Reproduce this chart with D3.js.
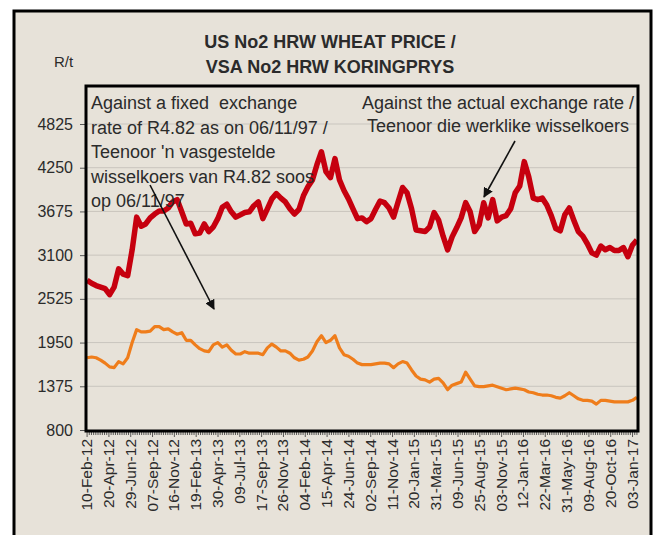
<!DOCTYPE html>
<html>
<head>
<meta charset="utf-8">
<script src="https://cdn.jsdelivr.net/npm/d3@7"></script>
<style>
	html,body{margin:0;padding:0;background:#fff;}
	text{font-family:"Liberation Sans",Arial,sans-serif;fill:#2b2b2b;}
</style>
</head>
<body>
<svg id="vis" width="656" height="535"></svg>
<script>
// R/t, one value every second week, 10-Feb-12 .. Jan-17
var actualRate = [2770,2730,2700,2680,2660,2580,2680,2920,2850,2830,
	3170,3600,3480,3510,3590,3640,3680,3680,3720,3800,
	3830,3670,3510,3520,3380,3390,3510,3410,3470,3580,
	3730,3770,3670,3600,3630,3660,3670,3750,3800,3580,
	3710,3840,3910,3850,3800,3710,3640,3700,3880,4000,
	4090,4290,4460,4200,4120,4370,4090,3950,3840,3710,
	3580,3590,3540,3580,3700,3810,3790,3720,3600,3800,
	3990,3920,3710,3430,3420,3410,3470,3660,3560,3350,
	3170,3340,3460,3590,3790,3670,3410,3500,3790,3590,
	3830,3550,3600,3620,3710,3920,4010,4330,4130,3850,
	3830,3850,3760,3620,3450,3420,3630,3720,3560,3410,
	3350,3250,3130,3100,3220,3170,3200,3160,3160,3200,
	3080,3230,3300];

var fixedRate = [1750,1760,1750,1720,1680,1630,1620,1700,1670,1750,
	1950,2120,2090,2090,2100,2160,2160,2120,2130,2090,
	2060,2080,1980,1980,1920,1870,1840,1830,1920,1950,
	1890,1920,1850,1800,1800,1830,1810,1810,1810,1790,
	1880,1930,1890,1840,1840,1810,1750,1720,1730,1760,
	1840,1960,2040,1950,1980,2040,1880,1790,1770,1730,
	1680,1660,1660,1660,1670,1680,1680,1670,1620,1670,
	1700,1680,1590,1510,1470,1460,1430,1470,1480,1420,
	1330,1390,1410,1430,1560,1470,1380,1370,1370,1380,
	1390,1370,1350,1330,1340,1350,1340,1330,1300,1290,
	1270,1260,1260,1250,1230,1220,1250,1290,1250,1210,
	1190,1190,1180,1140,1190,1190,1180,1170,1170,1170,
	1170,1190,1230];

var dateLabels = ['10-Feb-12','20-Apr-12','29-Jun-12','07-Sep-12','16-Nov-12','19-Feb-13',
	'30-Apr-13','09-Jul-13','17-Sep-13','26-Nov-13','04-Feb-14','15-Apr-14','24-Jun-14',
	'02-Sep-14','11-Nov-14','20-Jan-15','31-Mar-15','09-Jun-15','25-Aug-15','03-Nov-15',
	'12-Jan-16','22-Mar-16','31-May-16','09-Aug-16','20-Oct-16','03-Jan-17'];

var yTicks = [800,1375,1950,2525,3100,3675,4250,4825];

var titleLines = ['US No2 HRW WHEAT PRICE /','VSA No2 HRW KORINGPRYS'];
var noteFixed = ['Against a fixed  exchange','rate of R4.82 as on 06/11/97 /',"Teenoor 'n vasgestelde",'wisselkoers van R4.82 soos','op 06/11/97'];
var noteActual = ['Against the actual exchange rate /','Teenoor die werklike wisselkoers'];

var chart = {
	w:656,
	h:535,

	left:86,
	right:638,
	top:86,
	bottom:431,

	weeks:253,		// categories on the axis, label every 10th

	generate:function(){
		var self = this;
		var svg = d3.select('#vis');

		// paper + outer frame
		svg.append('rect')
			.attr('x',14).attr('y',11)
			.attr('width',637).attr('height',560)
			.attr('fill','#e7e2d9')
			.attr('stroke','#000')
			.attr('stroke-width',3);

		var y = d3.scaleLinear()
			.domain([800,4825])
			.range([self.bottom -1,124]);

		var xc = d3.scaleLinear()
			.domain([-0.5,self.weeks -0.5])
			.range([self.left,self.right]);

		var xs = d3.scaleLinear()
			.domain([0,actualRate.length -1])
			.range([xc(0),xc(self.weeks -1)]);

		// grid
		svg.selectAll('line.grid')
			.data(yTicks.slice(1))
			.enter().append('line')
			.classed('grid',true)
			.attr('x1',self.left).attr('x2',self.right)
			.attr('y1',function(d){ return y(d); })
			.attr('y2',function(d){ return y(d); })
			.attr('stroke','#c9c5be')
			.attr('stroke-width',1);

		// y axis labels + ticks
		var yAxis = d3.axisLeft(y)
			.tickValues(yTicks)
			.tickFormat(d3.format('d'))
			.tickSize(6)
			.tickPadding(7);
		var gy = svg.append('g')
			.attr('transform','translate(' +self.left +',0)')
			.call(yAxis);
		gy.select('.domain').remove();
		gy.selectAll('line').attr('stroke','#555');
		gy.selectAll('text')
			.style('font-size','16px')
			.attr('fill','#333');

		// x axis: small tick per week, label every 10 weeks
		svg.selectAll('line.wk')
			.data(d3.range(self.weeks))
			.enter().append('line')
			.classed('wk',true)
			.attr('x1',function(d){ return xc(d); })
			.attr('x2',function(d){ return xc(d); })
			.attr('y1',self.bottom)
			.attr('y2',function(d){ return self.bottom +(d%10 === 0 ? 6 : 4); })
			.attr('stroke','#333')
			.attr('stroke-width',0.8);

		svg.selectAll('text.xlab')
			.data(dateLabels)
			.enter().append('text')
			.classed('xlab',true)
			.attr('transform',function(d,i){
				return 'translate(' +(xc(i*10) +5) +',' +(self.bottom +8) +') rotate(-90)';
			})
			.attr('text-anchor','end')
			.style('font-size','15.5px')
			.attr('fill','#333')
			.text(function(d){ return d; });

		// lines
		var line = d3.line()
			.x(function(d,i){ return xs(i); })
			.y(function(d){ return y(d); })
			.curve(d3.curveLinear);

		svg.append('path')
			.datum(fixedRate)
			.attr('d',line)
			.attr('fill','none')
			.attr('stroke','#ef7d1b')
			.attr('stroke-width',3.2)
			.attr('stroke-linejoin','round');

		svg.append('path')
			.datum(actualRate)
			.attr('d',line)
			.attr('fill','none')
			.attr('stroke','#c6000f')
			.attr('stroke-width',5.5)
			.attr('stroke-linejoin','round');

		// plot box
		svg.append('rect')
			.attr('x',self.left).attr('y',self.top)
			.attr('width',self.right -self.left)
			.attr('height',self.bottom -self.top)
			.attr('fill','none')
			.attr('stroke','#000')
			.attr('stroke-width',3);

		// titles
		svg.selectAll('text.title')
			.data(titleLines)
			.enter().append('text')
			.classed('title',true)
			.attr('x',330)
			.attr('y',function(d,i){ return 48 +i*25; })
			.attr('text-anchor','middle')
			.style('font-size','18px')
			.style('font-weight','bold')
			.attr('fill','#111')
			.text(function(d){ return d; });

		svg.append('text')
			.attr('x',54).attr('y',67)
			.style('font-size','15px')
			.text('R/t');

		// notes
		svg.selectAll('text.nf')
			.data(noteFixed)
			.enter().append('text')
			.classed('nf',true)
			.attr('x',91)
			.attr('y',function(d,i){ return 109 +i*24.5; })
			.style('font-size','18px')
			.style('white-space','pre')
			.text(function(d){ return d; });

		svg.selectAll('text.na')
			.data(noteActual)
			.enter().append('text')
			.classed('na',true)
			.attr('x',498)
			.attr('y',function(d,i){ return 109 +i*23; })
			.attr('text-anchor','middle')
			.style('font-size','18px')
			.text(function(d){ return d; });

		// arrows
		svg.append('defs').append('marker')
			.attr('id','head')
			.attr('viewBox','0 0 10 10')
			.attr('refX',9).attr('refY',5)
			.attr('markerWidth',10).attr('markerHeight',10)
			.attr('markerUnits','userSpaceOnUse')
			.attr('orient','auto')
			.append('path')
			.attr('d','M0,0L10,5L0,10z')
			.attr('fill','#111');

		var arrows = [[150,185,214,309],[515,141,484,197]];
		svg.selectAll('line.arrow')
			.data(arrows)
			.enter().append('line')
			.classed('arrow',true)
			.attr('x1',function(d){ return d[0]; })
			.attr('y1',function(d){ return d[1]; })
			.attr('x2',function(d){ return d[2]; })
			.attr('y2',function(d){ return d[3]; })
			.attr('stroke','#111')
			.attr('stroke-width',1.6)
			.attr('marker-end','url(#head)');
	}
};

window.onload = function(){ chart.generate(); };
</script>
</body>
</html>
